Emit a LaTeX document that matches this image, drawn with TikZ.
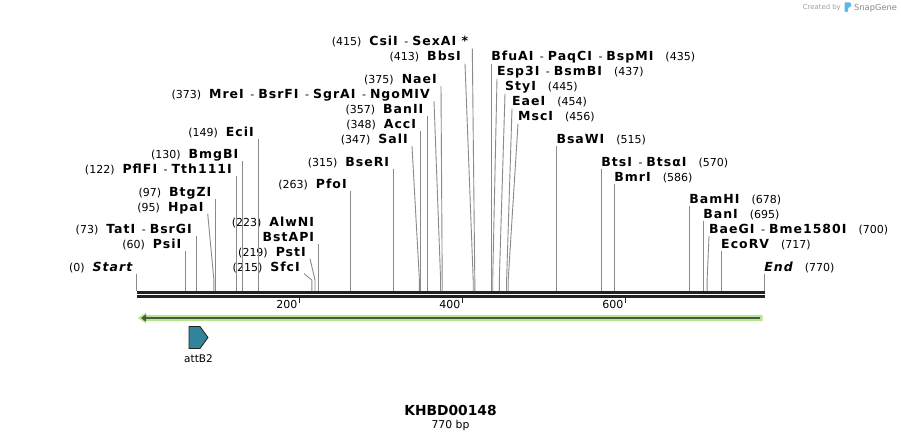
\documentclass[tikz,border=0pt]{standalone}
\usepackage{fontspec}
\setmainfont{DejaVu Sans}
\usepackage{tikz}
\usetikzlibrary{arrows.meta,calc}
\definecolor{MapLine}{HTML}{8A8A8A}
\definecolor{MapDark}{HTML}{222222}
\definecolor{MapGreen}{HTML}{B6E78C}
\definecolor{MapCore}{HTML}{4A5941}
\definecolor{MapTeal}{HTML}{31849B}
\definecolor{MapLogo}{HTML}{5BB8E8}
\definecolor{MapMark}{HTML}{A0A0A0}
\newcommand{\enz}[1]{{\fontsize{12.5}{15}\selectfont\bfseries\addfontfeature{LetterSpace=8}#1}}
\newcommand{\cutsep}{\hspace{6.5pt}-\hspace{4pt}}
\tikzset{
  cut/.style={MapLine,line width=0.9pt},
  lblL/.style={anchor=base east,inner xsep=4pt,inner ysep=2.5pt,text depth=0pt,font=\fontsize{11}{15}\selectfont},
  lblR/.style={anchor=base west,inner xsep=0pt,inner ysep=2.5pt,text depth=0pt,font=\fontsize{11}{15}\selectfont},
  bar/.style={MapDark,line width=2.6pt},
  tick/.style={MapDark,line width=1.4pt},
}
\begin{document}
\begin{tikzpicture}[x=1pt,y=-1pt]
\fill[white] (0,0) rectangle (901,441);
\useasboundingbox (0,0) rectangle (901,441);
% backbone
\draw[bar] (136.5,292.2) -- (764.5,292.2);
\draw[bar] (136.5,296.6) -- (764.5,296.6);
\draw[tick] (299.5,297) -- (299.5,302.5);
\draw[tick] (462.6,297) -- (462.6,302.5);
\draw[tick] (625.6,297) -- (625.6,302.5);
\node[lblL,inner xsep=2pt] (t200) at (299.5,308.5) {200};
\node[lblL,inner xsep=2pt] (t400) at (462.6,308.5) {400};
\node[lblL,inner xsep=2pt] (t600) at (625.6,308.5) {600};
\coordinate (bend) at (0,280);
% cut sites on the backbone
\coordinate (sStart) at (136.5,291);
\coordinate (sPsiI) at (185.4,291);
\coordinate (sTatI) at (196.0,291);
\coordinate (sHpaI) at (213.9,291);
\coordinate (sBtgZI) at (215.6,291);
\coordinate (sPflFI) at (236.0,291);
\coordinate (sBmgBI) at (242.5,291);
\coordinate (sEciI) at (258.0,291);
\coordinate (sSfcI) at (311.8,291);
\coordinate (sPstI) at (315.0,291);
\coordinate (sBstAPI) at (318.3,291);
\coordinate (sPfoI) at (350.9,291);
\coordinate (sBseRI) at (393.3,291);
\coordinate (sSalI) at (419.4,291);
\coordinate (sAccI) at (420.2,291);
\coordinate (sBanII) at (427.5,291);
\coordinate (sMreI) at (440.6,291);
\coordinate (sNaeI) at (442.2,291);
\coordinate (sBbsI) at (473.2,291);
\coordinate (sCsiI) at (474.8,291);
\coordinate (sBfuAI) at (491.1,291);
\coordinate (sEsp3I) at (492.7,291);
\coordinate (sStyI) at (499.3,291);
\coordinate (sEaeI) at (506.6,291);
\coordinate (sMscI) at (508.2,291);
\coordinate (sBsaWI) at (556.3,291);
\coordinate (sBtsI) at (601.2,291);
\coordinate (sBmrI) at (614.2,291);
\coordinate (sBamHI) at (689.2,291);
\coordinate (sBanI) at (703.1,291);
\coordinate (sBaeGI) at (707.1,291);
\coordinate (sEcoRV) at (721.0,291);
\coordinate (sEnd) at (764.2,291);
% labels left of their line
\node[lblL] (lCsiI) at (472.3,46) {(415)\hspace{8pt}\enz{CsiI}\cutsep\enz{SexAI *}};
\node[lblL] (lBbsI) at (465,61) {(413)\hspace{8pt}\enz{BbsI}};
\node[lblL] (lNaeI) at (441,83.5) {(375)\hspace{8pt}\enz{NaeI}};
\node[lblL] (lMreI) at (434,98.5) {(373)\hspace{8pt}\enz{MreI}\cutsep\enz{BsrFI}\cutsep\enz{SgrAI}\cutsep\enz{NgoMIV}};
\node[lblL] (lBanII) at (427.5,113.5) {(357)\hspace{8pt}\enz{BanII}};
\node[lblL] (lAccI) at (420.2,128.5) {(348)\hspace{8pt}\enz{AccI}};
\node[lblL] (lEciI) at (258,136) {(149)\hspace{8pt}\enz{EciI}};
\node[lblL] (lSalI) at (412,143.5) {(347)\hspace{8pt}\enz{SalI}};
\node[lblL] (lBmgBI) at (242.5,158.5) {(130)\hspace{8pt}\enz{BmgBI}};
\node[lblL] (lBseRI) at (393.3,166) {(315)\hspace{8pt}\enz{BseRI}};
\node[lblL] (lPflFI) at (236,173.5) {(122)\hspace{8pt}\enz{PflFI}\cutsep\enz{Tth111I}};
\node[lblL] (lPfoI) at (350.9,188.5) {(263)\hspace{8pt}\enz{PfoI}};
\node[lblL] (lBtgZI) at (215.6,196) {(97)\hspace{8pt}\enz{BtgZI}};
\node[lblL] (lHpaI) at (207.7,211) {(95)\hspace{8pt}\enz{HpaI}};
\node[lblL] (lAlwNI) at (318.3,226) {(223)\hspace{8pt}\enz{AlwNI}};
\node[lblL] (lTatI) at (196,233.5) {(73)\hspace{8pt}\enz{TatI}\cutsep\enz{BsrGI}};
\node[lblL] (lBstAPI) at (318.3,241) {\enz{BstAPI}};
\node[lblL] (lPsiI) at (185.4,248.5) {(60)\hspace{8pt}\enz{PsiI}};
\node[lblL] (lPstI) at (310,256) {(219)\hspace{8pt}\enz{PstI}};
\node[lblL] (lStart) at (136.5,271) {(0)\hspace{8pt}\enz{\itshape Start}};
\node[lblL] (lSfcI) at (304,271) {(215)\hspace{8pt}\enz{SfcI}};
% labels right of their line
\node[lblR] (lBfuAI) at (491.1,61) {\enz{BfuAI}\cutsep\enz{PaqCI}\cutsep\enz{BspMI}\hspace{12pt}(435)};
\node[lblR] (lEsp3I) at (497,76) {\enz{Esp3I}\cutsep\enz{BsmBI}\hspace{12pt}(437)};
\node[lblR] (lStyI) at (505,91) {\enz{StyI}\hspace{12pt}(445)};
\node[lblR] (lEaeI) at (512,106) {\enz{EaeI}\hspace{12pt}(454)};
\node[lblR] (lMscI) at (518,121) {\enz{MscI}\hspace{12pt}(456)};
\node[lblR] (lBsaWI) at (556.3,143.5) {\enz{BsaWI}\hspace{12pt}(515)};
\node[lblR] (lBtsI) at (601.2,166) {\enz{BtsI}\cutsep\enz{BtsαI}\hspace{12pt}(570)};
\node[lblR] (lBmrI) at (614.2,181) {\enz{BmrI}\hspace{12pt}(586)};
\node[lblR] (lBamHI) at (689.2,203.5) {\enz{BamHI}\hspace{12pt}(678)};
\node[lblR] (lBanI) at (703.1,218.5) {\enz{BanI}\hspace{12pt}(695)};
\node[lblR] (lBaeGI) at (709,233.5) {\enz{BaeGI}\cutsep\enz{Bme1580I}\hspace{12pt}(700)};
\node[lblR] (lEcoRV) at (721,248.5) {\enz{EcoRV}\hspace{12pt}(717)};
\node[lblR] (lEnd) at (764.2,271) {\enz{\itshape End}\hspace{12pt}(770)};
% site lines
\draw[cut] (lCsiI.south east) -- (sCsiI |- bend) -- (sCsiI);
\draw[cut] (lBbsI.south east) -- (sBbsI |- bend) -- (sBbsI);
\draw[cut] (lNaeI.south east) -- (sNaeI |- bend) -- (sNaeI);
\draw[cut] (lMreI.south east) -- (sMreI |- bend) -- (sMreI);
\draw[cut] (lBanII.south east) -- (sBanII);
\draw[cut] (lAccI.south east) -- (sAccI);
\draw[cut] (lEciI.south east) -- (sEciI);
\draw[cut] (lSalI.south east) -- (sSalI |- bend) -- (sSalI);
\draw[cut] (lBmgBI.south east) -- (sBmgBI);
\draw[cut] (lBseRI.south east) -- (sBseRI);
\draw[cut] (lPflFI.south east) -- (sPflFI);
\draw[cut] (lPfoI.south east) -- (sPfoI);
\draw[cut] (lBtgZI.south east) -- (sBtgZI);
\draw[cut] (lHpaI.south east) -- (sHpaI |- bend) -- (sHpaI);
\draw[cut] (lTatI.south east) -- (sTatI);
\draw[cut] (lBstAPI.south east) -- (sBstAPI);
\draw[cut] (lPsiI.south east) -- (sPsiI);
\draw[cut] (lPstI.south east) -- (sPstI |- bend) -- (sPstI);
\draw[cut] (lStart.south east) -- (sStart);
\draw[cut] (lSfcI.south east) -- (sSfcI |- bend) -- (sSfcI);
\draw[cut] (lBfuAI.south west) -- (sBfuAI);
\draw[cut] (lEsp3I.south west) -- (sEsp3I |- bend) -- (sEsp3I);
\draw[cut] (lStyI.south west) -- (sStyI |- bend) -- (sStyI);
\draw[cut] (lEaeI.south west) -- (sEaeI |- bend) -- (sEaeI);
\draw[cut] (lMscI.south west) -- (sMscI |- bend) -- (sMscI);
\draw[cut] (lBsaWI.south west) -- (sBsaWI);
\draw[cut] (lBtsI.south west) -- (sBtsI);
\draw[cut] (lBmrI.south west) -- (sBmrI);
\draw[cut] (lBamHI.south west) -- (sBamHI);
\draw[cut] (lBanI.south west) -- (sBanI);
\draw[cut] (lBaeGI.south west) -- (sBaeGI |- bend) -- (sBaeGI);
\draw[cut] (lEcoRV.south west) -- (sEcoRV);
\draw[cut] (lEnd.south west) -- (sEnd);
% reverse strand arrow
\fill[MapGreen] (138,318) -- (146,312.5) -- (146,315) -- (762.5,315) -- (762.5,321) -- (146,321) -- (146,323.5) -- cycle;
\draw[MapCore,line width=2.6pt,-{Triangle[length=5pt,width=7pt]}] (760,318) -- (141,318);
% attB2 feature
\filldraw[fill=MapTeal,draw=MapDark,line width=0.8pt] (189,326.5) -- (200,326.5) -- (208,337.5) -- (200,348.5) -- (189,348.5) -- cycle;
\node[font=\fontsize{10.5}{15}\selectfont] (attB2) at (198.5,359) {attB2};
% title
\node[anchor=base,font=\fontsize{13.8}{16}\selectfont\bfseries] (title) at (450.5,415) {KHBD00148};
\node[anchor=base,font=\fontsize{10.8}{13}\selectfont] (length) at (450.5,428.5) {770 bp};
% watermark
\node[anchor=base east,inner sep=0pt,text=MapMark,font=\fontsize{6.9}{8}\selectfont] (made) at (841,10) {Created by};
\fill[MapLogo,rounded corners=0.8pt] (844.5,2.5) -- (850.5,2.5) -- (851.5,6) -- (848,8) -- (848,12) -- (844.5,12) -- cycle;
\node[anchor=base west,inner sep=0pt,text=MapMark!85!black,font=\fontsize{8.3}{10}\selectfont] (brand) at (854,11) {SnapGene};
\end{tikzpicture}
\end{document}
